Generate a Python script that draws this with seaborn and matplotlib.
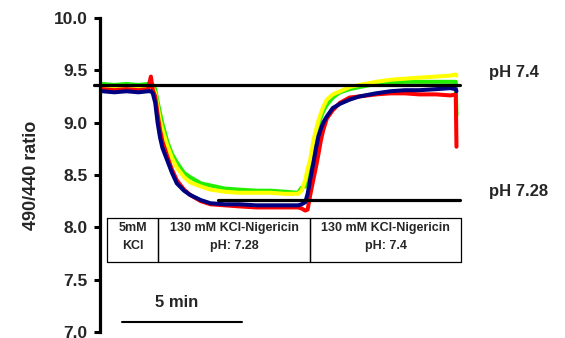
import matplotlib
matplotlib.use("Agg")
import matplotlib.pyplot as plt
import seaborn as sns
import pandas as pd

# time in minutes
time = [0.1, 0.6, 1.1, 1.6, 2.0, 2.12, 2.2, 2.3, 2.4, 2.5, 2.6, 2.8, 3.0, 3.2, 3.5, 3.75,
        4.2, 4.6, 5.2, 5.8, 6.5, 7.1, 7.7, 8.25, 8.4, 8.55, 8.65, 8.75, 8.9, 9.0,
        9.1, 9.2, 9.3, 9.45, 9.7, 10.0, 10.4, 10.8, 11.5, 12.1, 12.7, 13.3, 14.0,
        14.6, 14.82, 14.85]

green = [9.37, 9.36, 9.37, 9.36, 9.37, 9.38, 9.36, 9.32, 9.20, 9.09, 8.99, 8.82, 8.70, 8.62,
         8.52, 8.48, 8.42, 8.40, 8.37, 8.36, 8.35, 8.35, 8.34, 8.33, 8.38, 8.39, 8.46,
         8.56, 8.76, 8.86, 8.97, 9.05, 9.11, 9.17, 9.24, 9.29, 9.32, 9.34, 9.37, 9.38,
         9.39, 9.39, 9.39, 9.39, 9.39, 9.07]
yellow = [9.34, 9.33, 9.34, 9.33, 9.34, 9.35, 9.33, 9.28, 9.15, 9.02, 8.93, 8.78, 8.66, 8.57,
          8.48, 8.43, 8.39, 8.36, 8.34, 8.33, 8.33, 8.33, 8.32, 8.32, 8.35, 8.45, 8.56,
          8.64, 8.84, 8.93, 9.02, 9.09, 9.15, 9.22, 9.27, 9.30, 9.34, 9.36, 9.39, 9.41,
          9.42, 9.43, 9.44, 9.45, 9.46, 9.45]
red = [9.32, 9.31, 9.32, 9.31, 9.32, 9.44, 9.31, 9.25, 9.08, 8.93, 8.82, 8.68, 8.55, 8.45,
       8.36, 8.31, 8.25, 8.22, 8.21, 8.20, 8.19, 8.19, 8.19, 8.19, 8.18, 8.16, 8.17,
       8.30, 8.47, 8.58, 8.70, 8.83, 8.93, 9.04, 9.12, 9.19, 9.24, 9.25, 9.27, 9.28,
       9.28, 9.27, 9.27, 9.26, 9.27, 8.77]
navy = [9.30, 9.29, 9.30, 9.29, 9.30, 9.30, 9.28, 9.19, 9.00, 8.86, 8.76, 8.64, 8.52, 8.42,
        8.35, 8.31, 8.26, 8.23, 8.22, 8.22, 8.21, 8.21, 8.21, 8.21, 8.22, 8.24, 8.32,
        8.45, 8.63, 8.76, 8.87, 8.94, 9.00, 9.06, 9.14, 9.18, 9.22, 9.25, 9.28, 9.30,
        9.31, 9.31, 9.32, 9.33, 9.32, 9.30]

trace_names = ["green", "yellow", "red", "navy"]
trace_colors = ["#22ee00", "#ffff00", "#ff0000", "#000080"]

ref_levels = [9.36, 8.26]
ref_labels = ["pH 7.4", "pH 7.28"]

cells = [("5mM\nKCl", 0.29, 2.42),
         ("130 mM KCl-Nigericin\npH: 7.28", 2.42, 8.75),
         ("130 mM KCl-Nigericin\npH: 7.4", 8.75, 15.04)]

yticks = [7.0, 7.5, 8.0, 8.5, 9.0, 9.5, 10.0]

df = pd.concat([pd.DataFrame({"time": time, "ratio": v, "trace": n})
                for n, v in zip(trace_names, [green, yellow, red, navy])])

sns.set_style("white")
plt.rcParams["font.family"] = ["Liberation Sans", "DejaVu Sans"]
plt.rcParams["font.weight"] = "bold"

fig = plt.figure(figsize=(5.65, 3.38), dpi=100)
ax = fig.add_axes([0.177, 0.0178, 0.655, 0.929])

sns.lineplot(data=df, x="time", y="ratio", hue="trace", hue_order=trace_names,
             palette=trace_colors, estimator=None, sort=False, legend=False,
             linewidth=2.9, ax=ax)

ax.set_xlim(0, 370 / 24)
ax.set_ylim(7.0, 10.0)

# reference lines
ax.plot([-0.25, 15.0], [ref_levels[0]] * 2, color="black", lw=2.3, clip_on=False, zorder=5)
ax.plot([4.9, 15.0], [ref_levels[1]] * 2, color="black", lw=2.3, clip_on=False, zorder=5)
ax.text(16.2, 9.48, ref_labels[0], fontsize=12, fontweight="bold", va="center", ha="left")
ax.text(16.2, 8.34, ref_labels[1], fontsize=12, fontweight="bold", va="center", ha="left")

# condition table
top, bot = 8.09, 7.67
for label, x0, x1 in cells:
    ax.plot([x0, x1, x1, x0, x0], [top, top, bot, bot, top], color="black", lw=0.9, zorder=6)
    l1, l2 = label.split("\n")
    xc = (x0 + x1) / 2
    ax.text(xc, 7.99, l1, fontsize=9, fontweight="bold", ha="center", va="center")
    ax.text(xc, 7.82, l2, fontsize=9, fontweight="bold", ha="center", va="center")

# scale bar
ax.plot([0.92, 5.92], [7.10, 7.10], color="black", lw=1.5)
ax.text(3.2, 7.28, "5 min", fontsize=12, fontweight="bold", ha="center", va="center")

ax.set_yticks(yticks)
ax.set_yticklabels([f"{t:.1f}" for t in yticks])
ax.set_xticks([])
ax.set_xlabel("")
ax.set_ylabel("490/440 ratio", fontsize=13, fontweight="bold", labelpad=10)
for s in ["top", "right", "bottom"]:
    ax.spines[s].set_visible(False)
ax.spines["left"].set_linewidth(2.3)
ax.spines["left"].set_color("black")
ax.tick_params(axis="y", direction="out", length=4, width=2.2, pad=5, labelsize=12.5,
               left=True, color="black")
for lab in ax.get_yticklabels():
    lab.set_fontweight("bold")

fig.savefig("out.png", dpi=100)
